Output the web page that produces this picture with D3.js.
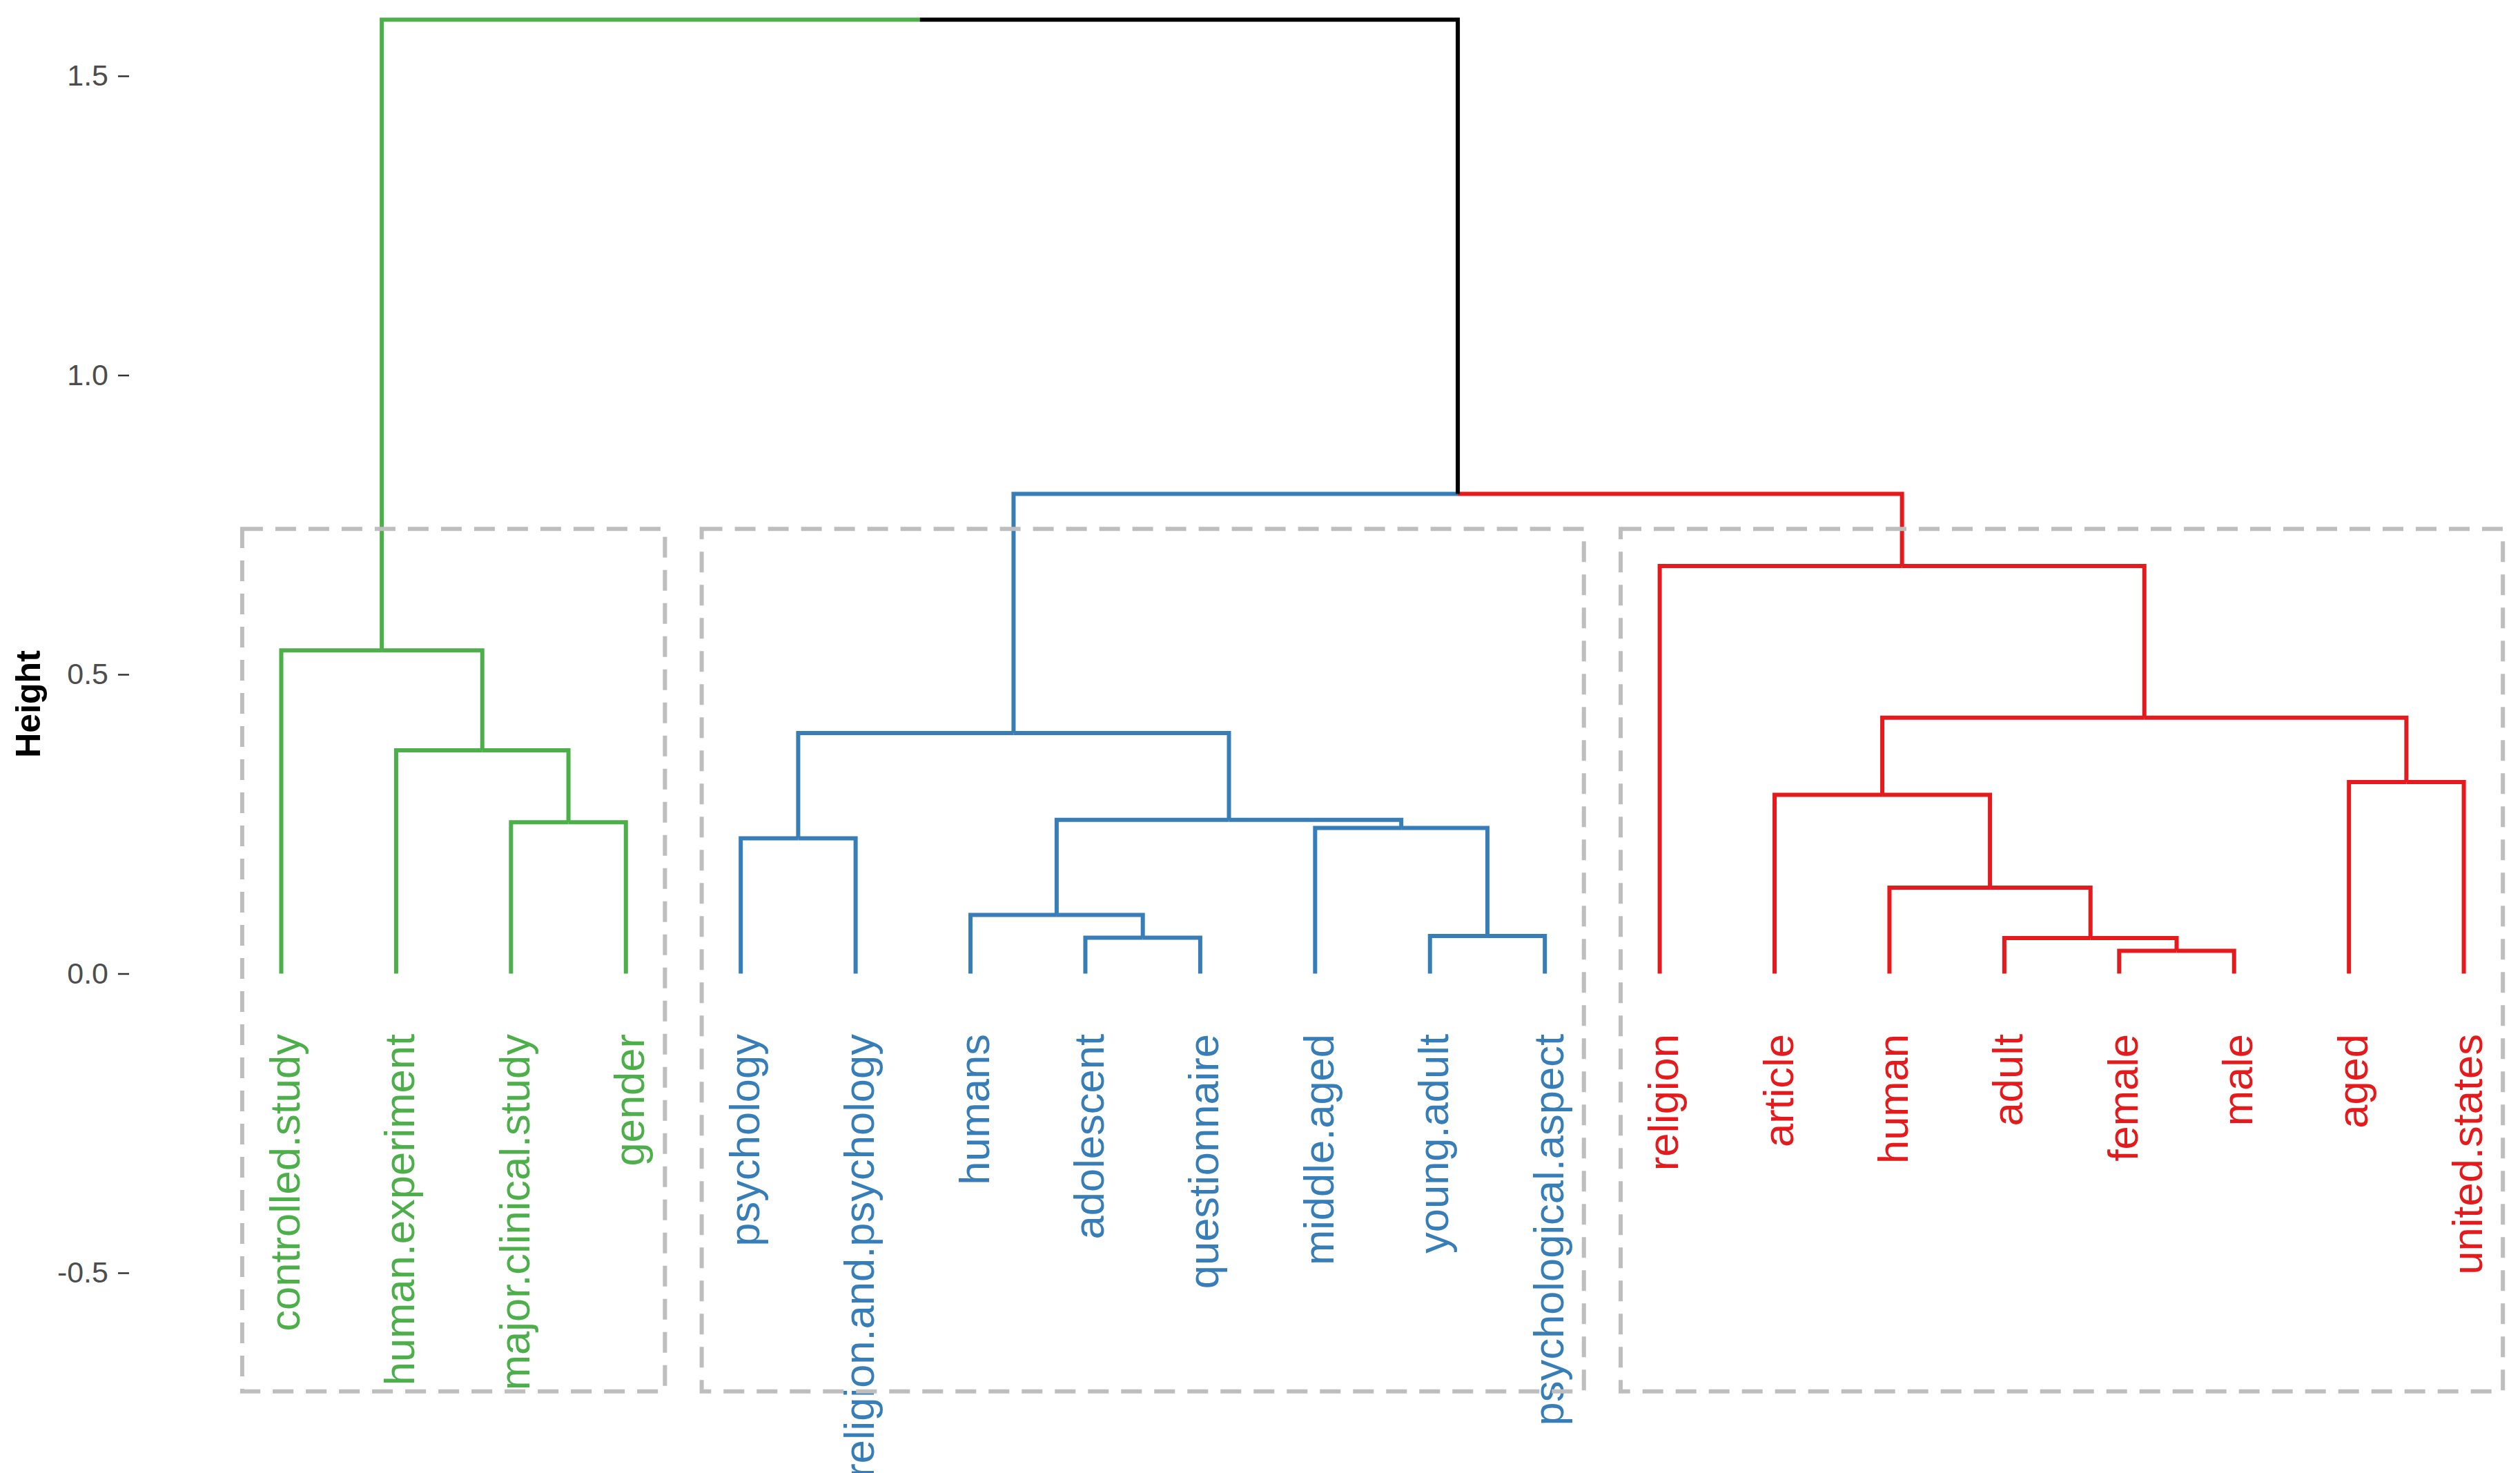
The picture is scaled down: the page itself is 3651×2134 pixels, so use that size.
<!DOCTYPE html>
<html>
<head>
<meta charset="utf-8">
<script src="https://cdn.jsdelivr.net/npm/d3@7"></script>
<style>
  html, body { margin: 0; padding: 0; background: #ffffff; }
  svg { display: block; }
</style>
</head>
<body>
<svg id="chart" width="3651" height="2134"></svg>
<script>
// ---- Data ----
const leafLabels = [
  "controlled.study", "human.experiment", "major.clinical.study", "gender",
  "psychology", "religion.and.psychology", "humans", "adolescent",
  "questionnaire", "middle.aged", "young.adult", "psychological.aspect",
  "religion", "article", "human", "adult", "female", "male", "aged", "united.states"
];
const leafCluster = [1,1,1,1, 2,2,2,2,2,2,2,2, 3,3,3,3,3,3,3,3];
// hclust-style merges: negative = leaf (1-based), positive = earlier merge step
const mergeLeft  = [-17, -16, -8, -11, -7, -15, -5, -10, -3, 5, -14, -19, -2, 7, 11, -1, -13, 14, 16];
const mergeRight = [-18,   1, -9, -12,  3,   2, -6,   4, -4, 8,   6, -20,  9, 10, 12, 13, 15, 17, 18];
const mergeHeight = [0.038, 0.0595, 0.060, 0.063, 0.098, 0.1436, 0.226, 0.2435, 0.253, 0.257,
                     0.2986, 0.320, 0.373, 0.402, 0.4275, 0.540, 0.681, 0.8016, 1.594];
const clusterColors = ["#4DAF4A", "#377EB8", "#E41A1C"];
const rectTop = 0.743, rectBottom = -0.698, rectPad = 0.34;
const yTicks = [-0.5, 0.0, 0.5, 1.0, 1.5];
const yTitle = "Height";

// ---- Scales ----
const svg = d3.select("#chart");
const x = d3.scaleLinear().domain([1, leafLabels.length]).range([407.5, 3569.6]);
const y = d3.scaleLinear().domain([0, 1.5]).range([1410.5, 110]);
const colorOf = c => (c ? clusterColors[c - 1] : "#000000");

// ---- Build tree ----
const leaves = leafLabels.map((name, i) => ({ name, pos: i + 1, height: 0, cluster: leafCluster[i] }));
const nodes = [];
mergeHeight.forEach((h, k) => {
  const get = v => (v < 0 ? leaves[-v - 1] : nodes[v - 1]);
  const a = get(mergeLeft[k]), b = get(mergeRight[k]);
  nodes.push({
    children: [a, b],
    height: h,
    pos: (a.pos + b.pos) / 2,
    cluster: (a.cluster && a.cluster === b.cluster) ? a.cluster : null
  });
});

// ---- Branches ----
const gBranches = svg.append("g");
nodes.forEach(n => {
  n.children.forEach(c => {
    gBranches.append("path")
      .attr("d", `M${x(c.pos)},${y(c.height)}V${y(n.height)}H${x(n.pos)}`)
      .attr("fill", "none")
      .attr("stroke", colorOf(c.cluster))
      .attr("stroke-width", 6)
      .attr("stroke-linecap", "butt")
      .attr("stroke-linejoin", "miter");
  });
});

// ---- Leaf labels ----
svg.append("g").selectAll("text").data(leaves).join("text")
  .attr("transform", d => `translate(${x(d.pos) + 26.5},1498) rotate(-90)`)
  .attr("text-anchor", "end")
  .attr("font-family", "'Liberation Sans', Arial, sans-serif")
  .attr("font-size", 61.5)
  .attr("fill", d => colorOf(d.cluster))
  .text(d => d.name);

// ---- Cluster rectangles ----
const clusters = d3.groups(leaves, d => d.cluster);
svg.append("g").selectAll("rect").data(clusters).join("rect")
  .attr("x", d => x(d3.min(d[1], l => l.pos) - rectPad))
  .attr("y", y(rectTop))
  .attr("width", d => x(d3.max(d[1], l => l.pos) + rectPad) - x(d3.min(d[1], l => l.pos) - rectPad))
  .attr("height", y(rectBottom) - y(rectTop))
  .attr("fill", "none")
  .attr("stroke", "#BEBEBE")
  .attr("stroke-width", 6)
  .attr("stroke-dasharray", "30,18");

// ---- Y axis ----
const yAxis = d3.axisLeft(y)
  .tickValues(yTicks)
  .tickSize(16)
  .tickPadding(14)
  .tickFormat(v => d3.format(".1f")(v).replace("\u2212", "-"));
const gAxis = svg.append("g").attr("transform", "translate(187,0)").call(yAxis);
gAxis.select(".domain").remove();
gAxis.selectAll(".tick line").attr("stroke", "#333333").attr("stroke-width", 2.5);
gAxis.selectAll(".tick text")
  .attr("font-family", "'Liberation Sans', Arial, sans-serif")
  .attr("font-size", 43)
  .attr("fill", "#4D4D4D");

svg.append("text")
  .attr("transform", "translate(58,1020) rotate(-90)")
  .attr("text-anchor", "middle")
  .attr("font-family", "'Liberation Sans', Arial, sans-serif")
  .attr("font-weight", "bold")
  .attr("font-size", 50)
  .attr("fill", "#000000")
  .text(yTitle);
</script>
</body>
</html>
